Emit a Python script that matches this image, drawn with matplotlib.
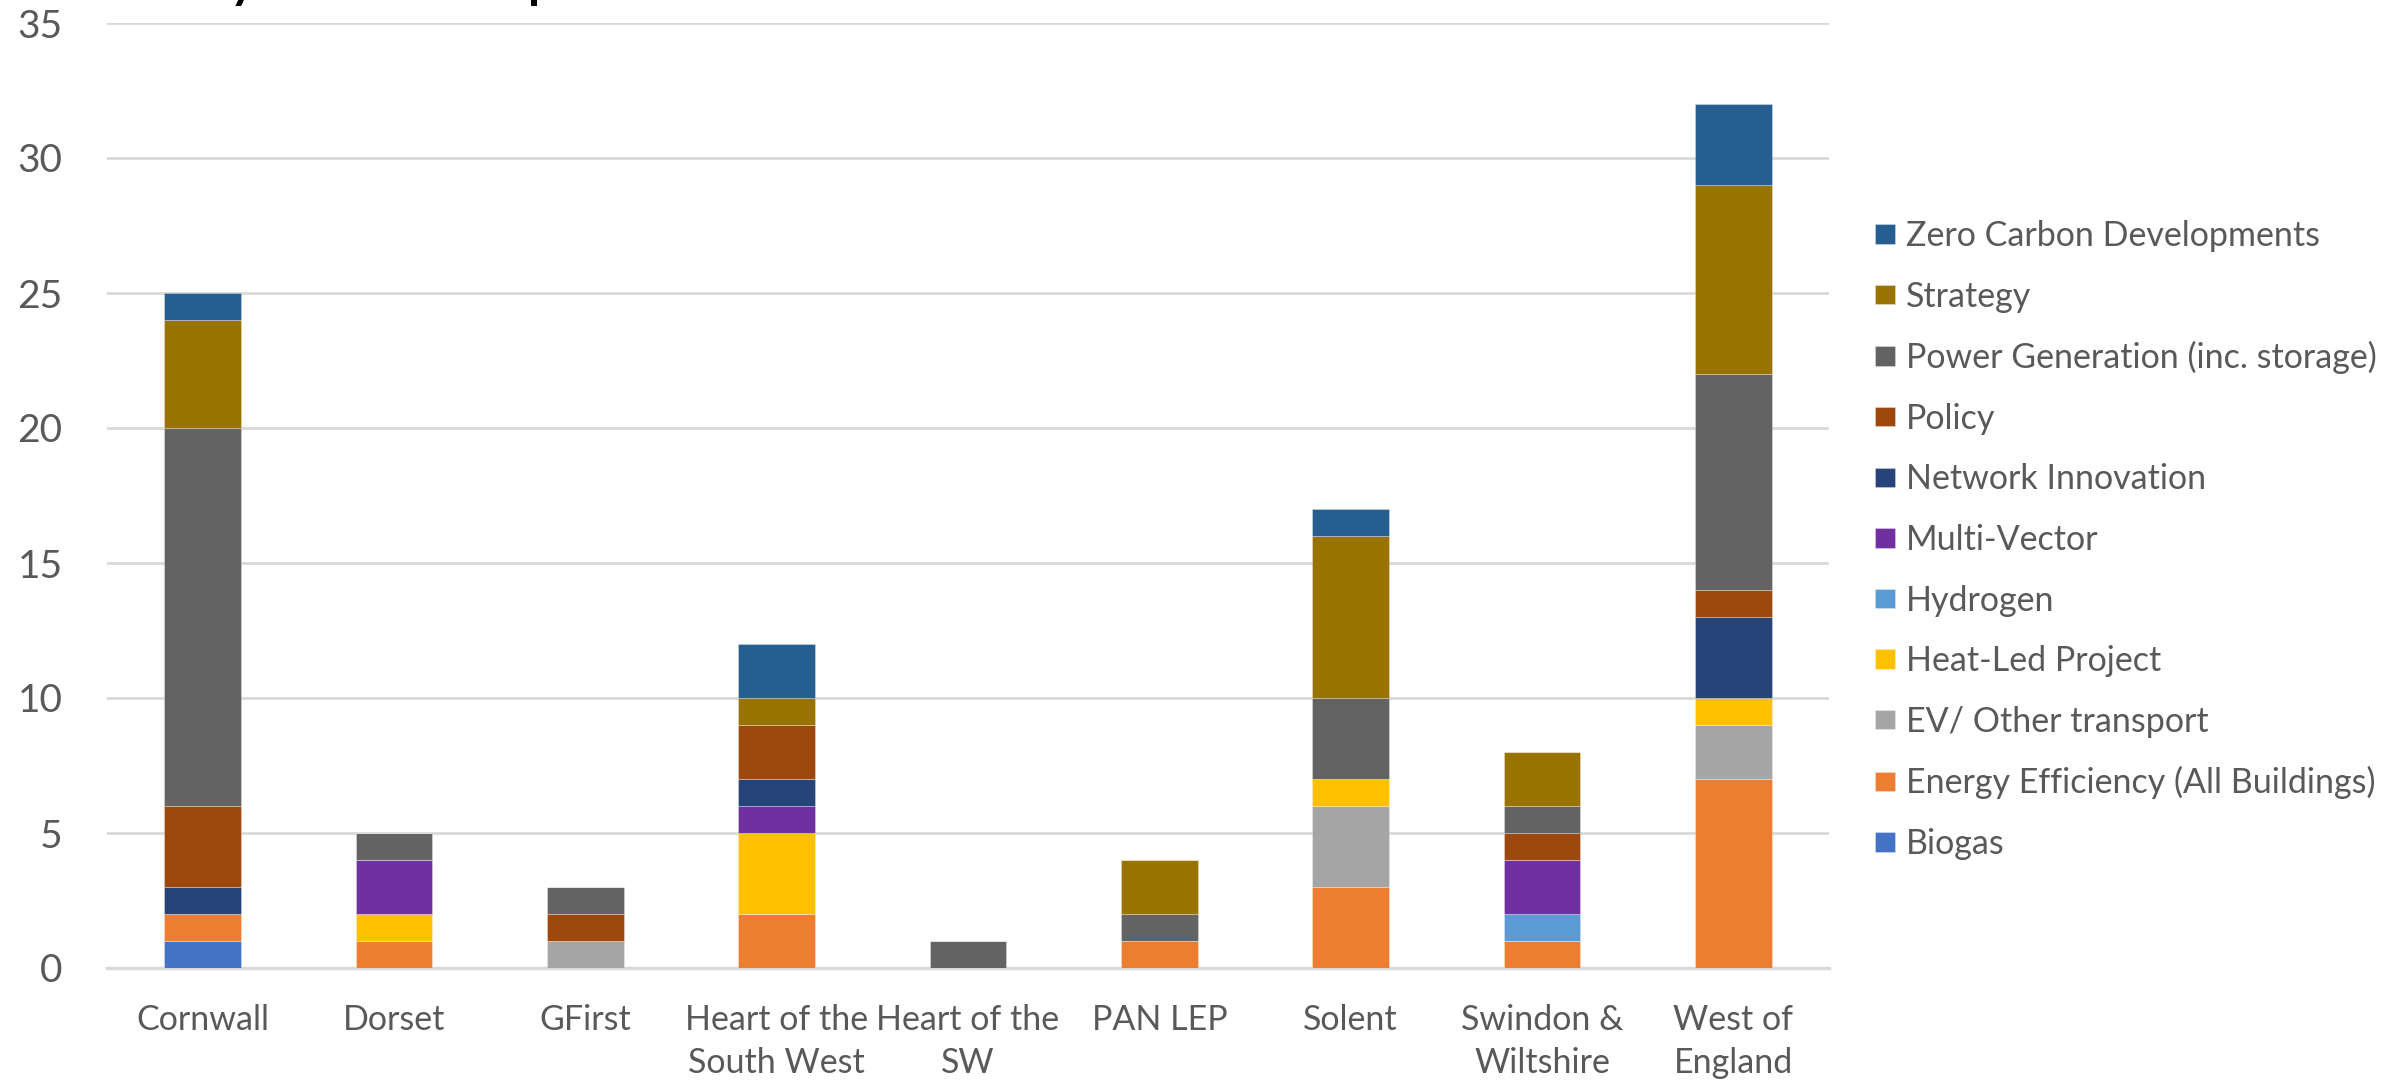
import matplotlib
matplotlib.use("Agg")
import matplotlib.pyplot as plt
import numpy as np

# Local Enterprise Partnership areas
categories = ["Cornwall", "Dorset", "GFirst", "Heart of the\nSouth West", "Heart of the\nSW",
              "PAN LEP", "Solent", "Swindon &\nWiltshire", "West of\nEngland"]

# Number of activities per theme (stacked bottom to top)
biogas            = [1, 0, 0, 0, 0, 0, 0, 0, 0]
energy_efficiency = [1, 1, 0, 2, 0, 1, 3, 1, 7]
ev_transport      = [0, 0, 1, 0, 0, 0, 3, 0, 2]
heat_led          = [0, 1, 0, 3, 0, 0, 1, 0, 1]
hydrogen          = [0, 0, 0, 0, 0, 0, 0, 1, 0]
multi_vector      = [0, 2, 0, 1, 0, 0, 0, 2, 0]
network_innov     = [1, 0, 0, 1, 0, 0, 0, 0, 3]
policy            = [3, 0, 1, 2, 0, 0, 0, 1, 1]
power_generation  = [14, 1, 1, 0, 1, 1, 3, 1, 8]
strategy          = [4, 0, 0, 1, 0, 2, 6, 2, 7]
zero_carbon       = [1, 0, 0, 2, 0, 0, 1, 0, 3]

series_names = ["Biogas", "Energy Efficiency (All Buildings)", "EV/ Other transport",
                "Heat-Led Project", "Hydrogen", "Multi-Vector", "Network Innovation",
                "Policy", "Power Generation (inc. storage)", "Strategy",
                "Zero Carbon Developments"]
series_values = [biogas, energy_efficiency, ev_transport, heat_led, hydrogen, multi_vector,
                 network_innov, policy, power_generation, strategy, zero_carbon]
series_colors = ["#4472C4", "#ED7D31", "#A5A5A5", "#FFC000", "#5B9BD5", "#7030A0",
                 "#264478", "#9E480E", "#636363", "#997300", "#255E91"]

y_ticks = [0, 5, 10, 15, 20, 25, 30, 35]

TEXT = "#595959"
GRID = "#D9D9D9"

W, H = 2405, 1081
fig = plt.figure(figsize=(W / 100, H / 100), dpi=100)
ax = fig.add_axes([107 / W, 113 / H, (1829 - 107) / W, (968 - 23) / H])

x = np.arange(len(categories))
bottom = np.zeros(len(categories))
handles = []
for name, vals, col in zip(series_names, series_values, series_colors):
    vals = np.array(vals, dtype=float)
    b = ax.bar(x, vals, width=0.4, bottom=bottom, color=col, label=name,
               edgecolor=(1, 1, 1, 0.35), linewidth=0.6, zorder=3)
    handles.append(b)
    bottom += vals

ax.set_xlim(-0.5, len(categories) - 0.5)
ax.set_ylim(0, 35)
ax.set_yticks(y_ticks)
ax.set_yticklabels([str(t) for t in y_ticks], fontfamily="Lato", fontsize=28, color=TEXT)
ax.set_xticks(x)
ax.set_xticklabels(categories, fontfamily="Lato", fontsize=24.5, color=TEXT,
                   linespacing=1.4)
ax.tick_params(axis="y", length=0, pad=32)
ax.tick_params(axis="x", length=0, pad=26)
ax.grid(axis="y", color=GRID, linewidth=2, zorder=0)
ax.set_axisbelow(True)
for s in ["top", "right", "left"]:
    ax.spines[s].set_visible(False)
ax.spines["bottom"].set_color(GRID)
ax.spines["bottom"].set_linewidth(2.5)
ax.spines["bottom"].set_zorder(2)

leg = fig.legend(handles[::-1], series_names[::-1], loc="center left",
                 bbox_to_anchor=(1875 / W, 0.5005), frameon=False,
                 prop={"family": "Lato", "size": 24.5}, labelcolor=TEXT,
                 handlelength=0.6, handleheight=0.5, handletextpad=0.3,
                 labelspacing=0.84, borderpad=0, borderaxespad=0)

# Chart title running off the top edge
fig.text(86 / W, 1 + 2.5 / H, "Activity Breakdown per LEP", fontfamily="Lato",
         fontweight="bold", fontsize=35, color="black", ha="left", va="baseline")

fig.savefig("out.png", dpi=100)
